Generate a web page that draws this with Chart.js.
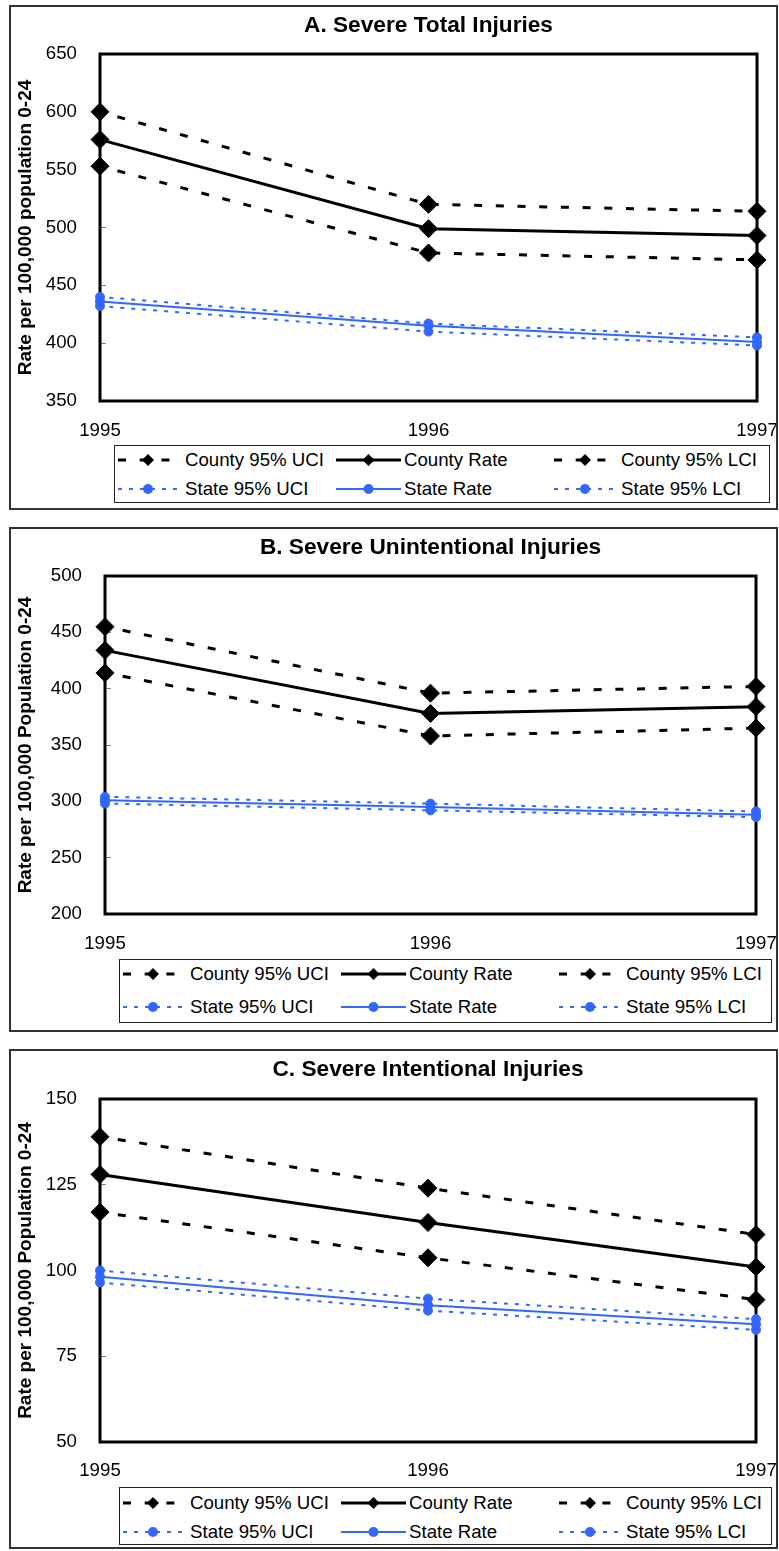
<!DOCTYPE html>
<html><head><meta charset="utf-8">
<script src="https://cdn.jsdelivr.net/npm/chart.js@4/dist/chart.umd.min.js"></script>
<style>
html,body{margin:0;padding:0;background:#fff;}
body{width:779px;height:1551px;position:relative;overflow:hidden;font-family:'Liberation Sans',Arial,Helvetica,sans-serif;}
canvas{position:absolute;}
.frame{position:absolute;box-sizing:border-box;border:2px solid #333;pointer-events:none;}
.legend{position:absolute;box-sizing:border-box;border:1px solid #222;background:#fff;}
.item{position:absolute;height:24px;display:flex;align-items:center;font-size:18.67px;white-space:nowrap;color:#000;}
</style></head><body>
<script>
// ---------- data ----------
const years = ['1995', '1996', '1997'];

// A. Severe Total Injuries
const aCountyUCI  = [600, 520, 514];
const aCountyRate = [576, 499, 493];
const aCountyLCI  = [553, 478, 472];
const aStateUCI   = [440, 417, 405];
const aStateRate  = [436, 415, 401];
const aStateLCI   = [432, 410, 398];
const aYTicks = [350, 650, 50]; // min, max, step

// B. Severe Unintentional Injuries
const bCountyUCI  = [455, 396, 402];
const bCountyRate = [434, 378, 384];
const bCountyLCI  = [414, 358, 365];
const bStateUCI   = [304, 298, 291];
const bStateRate  = [301, 295, 288];
const bStateLCI   = [298, 292, 286];
const bYTicks = [200, 500, 50];

// C. Severe Intentional Injuries
const cCountyUCI  = [139, 124, 110.5];
const cCountyRate = [128, 114, 101];
const cCountyLCI  = [117, 103.7, 91.5];
const cStateUCI   = [100, 91.8, 85.8];
const cStateRate  = [98.2, 89.9, 84.3];
const cStateLCI   = [96.5, 88.3, 82.7];
const cYTicks = [50, 150, 25];

const seriesNames = ['County 95% UCI', 'County Rate', 'County 95% LCI', 'State 95% UCI', 'State Rate', 'State 95% LCI'];

// ---------- styles ----------
const BLUE = '#3366ff';
const styles = {
  countyCI:   {color:'#000', width:3, dash:[8,13.7], offset:3.7, point:'rectRot', r:9},
  countyRate: {color:'#000', width:3, dash:[], offset:0, point:'rectRot', r:9},
  stateCI:    {color:BLUE, width:2, dash:[4,7], offset:1.7, point:'circle', r:4.5},
  stateRate:  {color:BLUE, width:2, dash:[], offset:0, point:'circle', r:4.5}
};
const seriesStyle = ['countyCI','countyRate','countyCI','stateCI','stateRate','stateCI'];

Chart.defaults.font.family = "'Liberation Sans', Arial, Helvetica, sans-serif";
Chart.defaults.color = '#000';

const framePlugin = {
  id: 'plotFrame',
  beforeDatasetsDraw(chart) {
    const {ctx, chartArea: a} = chart;
    ctx.save();
    ctx.strokeStyle = '#000';
    ctx.lineWidth = 3;
    ctx.strokeRect(a.left, a.top, a.right - a.left, a.bottom - a.top);
    ctx.restore();
  }
};

const panels = [
  {title:'A. Severe Total Injuries', yTitle:'Rate per 100,000 population 0-24',
   series:[aCountyUCI,aCountyRate,aCountyLCI,aStateUCI,aStateRate,aStateLCI], yt:aYTicks,
   top:5, h:505, yW:91, padR:21, padB:69, titlePB:14.8, xPad:19,
   legend:{left:114, top:445, w:656, h:58, rows:[15,44]}},
  {title:'B. Severe Unintentional Injuries', yTitle:'Rate per 100,000 Population 0-24',
   series:[bCountyUCI,bCountyRate,bCountyLCI,bStateUCI,bStateRate,bStateLCI], yt:bYTicks,
   top:527, h:505, yW:96, padR:22, padB:78, titlePB:14.8, xPad:19,
   legend:{left:119, top:959, w:653, h:64, rows:[15,48]}},
  {title:'C. Severe Intentional Injuries', yTitle:'Rate per 100,000 Population 0-24',
   series:[cCountyUCI,cCountyRate,cCountyLCI,cStateUCI,cStateRate,cStateLCI], yt:cYTicks,
   top:1049, h:500, yW:91, padR:22, padB:67, titlePB:15.8, xPad:18,
   legend:{left:119, top:1487, w:653, h:58, rows:[16,45]}}
];

const colSample = [4, 222, 440];
const colSampleW = [60, 65, 62];
const colText = [71, 290, 507];

function sampleSVG(st, w) {
  const ns = 'http://www.w3.org/2000/svg';
  const svg = document.createElementNS(ns, 'svg');
  svg.setAttribute('width', w); svg.setAttribute('height', 24);
  const line = document.createElementNS(ns, 'line');
  line.setAttribute('x1', 0); line.setAttribute('x2', w);
  line.setAttribute('y1', 12); line.setAttribute('y2', 12);
  line.setAttribute('stroke', st.color);
  line.setAttribute('stroke-width', st.width);
  if (st.dash.length) line.setAttribute('stroke-dasharray', st.dash.join(' '));
  svg.appendChild(line);
  const cx = w / 2;
  if (st.point === 'rectRot') {
    const p = document.createElementNS(ns, 'polygon');
    const s = 6;
    p.setAttribute('points', `${cx-s},12 ${cx},${12-s} ${cx+s},12 ${cx},${12+s}`);
    p.setAttribute('fill', st.color);
    svg.appendChild(p);
  } else {
    const c = document.createElementNS(ns, 'circle');
    c.setAttribute('cx', cx); c.setAttribute('cy', 12); c.setAttribute('r', 5);
    c.setAttribute('fill', st.color);
    svg.appendChild(c);
  }
  return svg;
}

panels.forEach(p => {
  const cv = document.createElement('canvas');
  cv.width = 769; cv.height = p.h;
  cv.style.left = '9px'; cv.style.top = p.top + 'px';
  cv.style.width = '769px'; cv.style.height = p.h + 'px';
  document.body.appendChild(cv);

  const datasets = p.series.map((vals, i) => {
    const st = styles[seriesStyle[i]];
    return {
      label: seriesNames[i], data: vals,
      borderColor: st.color, backgroundColor: st.color,
      borderWidth: st.width, borderDash: st.dash, borderDashOffset: st.offset,
      pointStyle: st.point, pointRadius: st.r, pointBorderWidth: 1,
      pointBackgroundColor: st.color, pointBorderColor: st.color,
      tension: 0, fill: false, clip: false
    };
  });

  new Chart(cv, {
    type: 'line',
    data: {labels: years, datasets},
    options: {
      responsive: false, animation: false, events: [],
      layout: {padding: {left: 0, top: 0, right: p.padR, bottom: p.padB}},
      plugins: {
        legend: {display: false}, tooltip: {enabled: false},
        title: {display: true, text: p.title, fullSize: false, color: '#000',
                font: {size: 22.67, weight: 'bold'}, padding: {top: 7, bottom: p.titlePB}}
      },
      scales: {
        x: {
          type: 'category', offset: false,
          grid: {display: false, drawTicks: true, tickLength: p.xPad}, border: {display: false},
          ticks: {font: {size: 18.67}, padding: 0, maxRotation: 0, autoSkip: false, color: '#000'},
          afterFit: s => { s.height = 40; }
        },
        y: {
          min: p.yt[0], max: p.yt[1],
          ticks: {stepSize: p.yt[2], padding: 29, font: {size: 18.67}, color: '#000'},
          grid: {drawOnChartArea: false, drawTicks: true, tickLength: -6, color: '#808080', lineWidth: 1},
          border: {display: false},
          title: {display: true, text: p.yTitle, color: '#000', font: {size: 19, weight: 'bold'}, padding: {top: 5, bottom: 0}},
          afterFit: s => { s.width = p.yW; }
        }
      }
    },
    plugins: [framePlugin]
  });

  const fr = document.createElement('div');
  fr.className = 'frame';
  fr.style.left = '9px'; fr.style.top = p.top + 'px';
  fr.style.width = '769px'; fr.style.height = p.h + 'px';
  document.body.appendChild(fr);

  const lg = document.createElement('div');
  lg.className = 'legend';
  const L = p.legend;
  lg.style.left = L.left + 'px'; lg.style.top = L.top + 'px';
  lg.style.width = L.w + 'px'; lg.style.height = L.h + 'px';
  datasets.forEach((ds, i) => {
    const row = Math.floor(i / 3), col = i % 3;
    const st = styles[seriesStyle[i]];
    const sm = document.createElement('div');
    sm.className = 'item';
    sm.style.left = (colSample[col] - 1) + 'px';
    sm.style.top = (L.rows[row] - 12 - 1) + 'px';
    sm.appendChild(sampleSVG(st, colSampleW[col]));
    lg.appendChild(sm);
    const tx = document.createElement('div');
    tx.className = 'item';
    tx.style.left = (colText[col] - 1) + 'px';
    tx.style.top = (L.rows[row] - 12 - 1) + 'px';
    tx.textContent = ds.label;
    lg.appendChild(tx);
  });
  document.body.appendChild(lg);
});
</script>
</body></html>
